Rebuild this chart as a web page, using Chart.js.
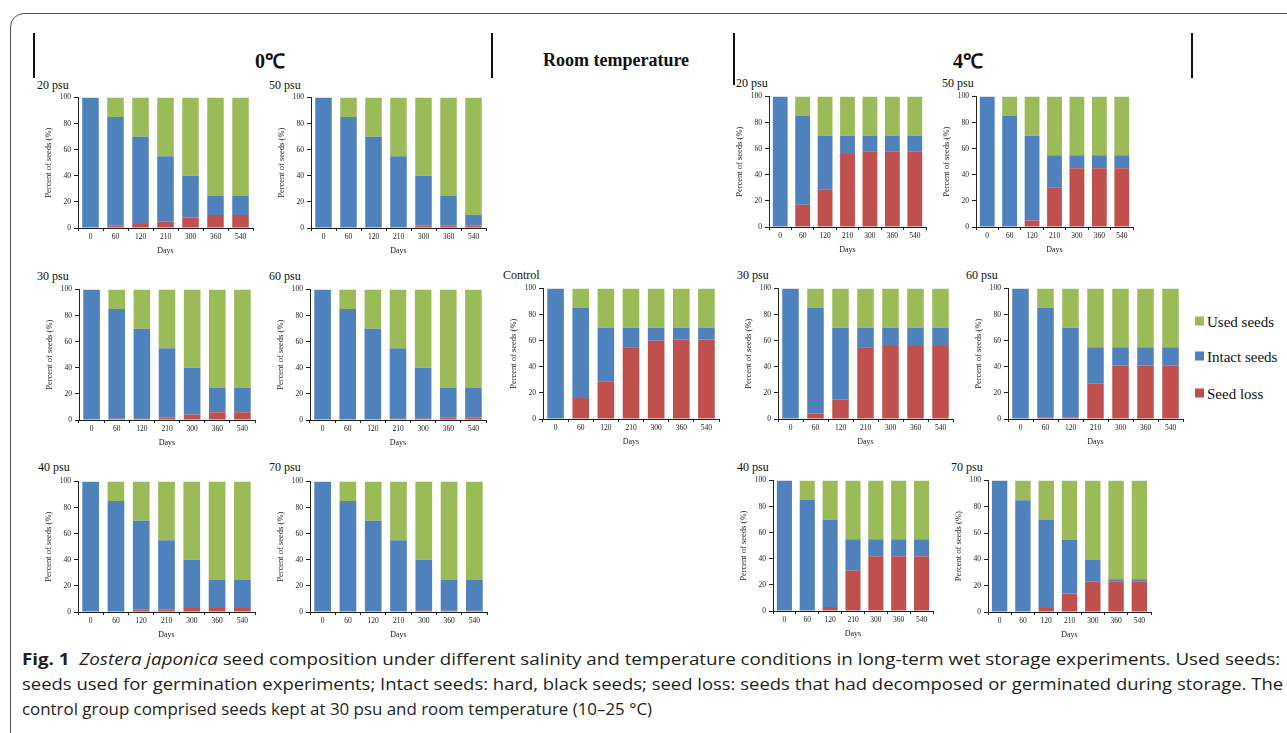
<!DOCTYPE html>
<html>
<head>
<meta charset="utf-8">
<script src="https://cdn.jsdelivr.net/npm/chart.js@4.4.1/dist/chart.umd.min.js"></script>
<style>
  html, body { margin: 0; padding: 0; background: #fff; }
  body { width: 1287px; height: 733px; overflow: hidden; position: relative; font-family: "Liberation Serif", serif; }
  #frame { position: absolute; left: 10px; top: 13px; width: 1320px; height: 760px; border: 1px solid #555; border-radius: 14px; }
  .bar { position: absolute; width: 2px; background: #111; }
  .head { position: absolute; font-weight: bold; color: #111; transform: translate(-50%, -50%); white-space: nowrap; }
  .plabel { position: absolute; font-size: 12px; color: #111; transform: translateY(-50%); white-space: nowrap; }
  canvas { position: absolute; }
  .leg { position: absolute; font-size: 15px; color: #111; transform: translateY(-50%); white-space: nowrap; }
  .leg i { display: inline-block; width: 9px; height: 9px; margin-right: 3px; vertical-align: 1px; }
  .cap { position: absolute; left: 22px; font-family: "Open Sans", sans-serif; font-size: 16px; color: #231f20; white-space: nowrap; transform-origin: 0 50%; transform: translateY(-50%); }
</style>
</head>
<body>
<div id="frame"></div>

<div class="bar" style="left:33px;top:33px;height:45px"></div>
<div class="bar" style="left:491px;top:33px;height:45px"></div>
<div class="bar" style="left:733px;top:33px;height:52px"></div>
<div class="bar" style="left:1191px;top:33px;height:45px"></div>
<div class="head" style="left:270px;top:60px;font-size:20px">0℃</div>
<div class="head" style="left:616px;top:60px;font-size:18px">Room temperature</div>
<div class="head" style="left:968px;top:60px;font-size:20px">4℃</div>

<div class="leg" style="left:1195px;top:322px"><i style="background:#9BBB59"></i>Used seeds</div>
<div class="leg" style="left:1195px;top:357px"><i style="background:#4F81BD"></i>Intact seeds</div>
<div class="leg" style="left:1195px;top:394px"><i style="background:#C0504D"></i>Seed loss</div>

<div class="cap" style="top:659px"><b>Fig. 1</b>&nbsp;&nbsp;<i>Zostera japonica</i> seed composition under different salinity and temperature conditions in long-term wet storage experiments. Used seeds:</div>
<div class="cap" style="top:684px">seeds used for germination experiments; Intact seeds: hard, black seeds; seed loss: seeds that had decomposed or germinated during storage. The</div>
<div class="cap" style="top:709px">control group comprised seeds kept at 30 psu and room temperature (10–25 °C)</div>

<script>
// Días de almacenamiento (eje x de todos los paneles)
const days = ['0', '60', '120', '210', '300', '360', '540'];

// 0 ℃
const loss0_20 = [0, 2, 3, 5, 8, 10, 10];
const intact0_20 = [100, 83, 67, 50, 32, 15, 15];
const used0_20 = [0, 15, 30, 45, 60, 75, 75];

const loss0_50 = [0, 0, 0, 0, 2, 2, 2];
const intact0_50 = [100, 85, 70, 55, 38, 23, 8];
const used0_50 = [0, 15, 30, 45, 60, 75, 90];

const loss0_30 = [0, 1, 1, 2, 4, 6, 6];
const intact0_30 = [100, 84, 69, 53, 36, 19, 19];
const used0_30 = [0, 15, 30, 45, 60, 75, 75];

const loss0_60 = [0, 0, 0, 1, 1, 2, 2];
const intact0_60 = [100, 85, 70, 54, 39, 23, 23];
const used0_60 = [0, 15, 30, 45, 60, 75, 75];

const loss0_40 = [0, 0, 2, 2, 3, 3, 3];
const intact0_40 = [100, 85, 68, 53, 37, 22, 22];
const used0_40 = [0, 15, 30, 45, 60, 75, 75];

const loss0_70 = [0, 0, 0, 0, 1, 1, 1];
const intact0_70 = [100, 85, 70, 55, 39, 24, 24];
const used0_70 = [0, 15, 30, 45, 60, 75, 75];

// Temperatura ambiente (control, 30 psu)
const lossCtrl = [0, 16, 29, 55, 60, 61, 61];
const intactCtrl = [100, 69, 41, 15, 10, 9, 9];
const usedCtrl = [0, 15, 30, 30, 30, 30, 30];

// 4 ℃
const loss4_20 = [0, 17, 29, 56, 58, 58, 58];
const intact4_20 = [100, 68, 41, 14, 12, 12, 12];
const used4_20 = [0, 15, 30, 30, 30, 30, 30];

const loss4_50 = [0, 0, 5, 30, 45, 45, 45];
const intact4_50 = [100, 85, 65, 25, 10, 10, 10];
const used4_50 = [0, 15, 30, 45, 45, 45, 45];

const loss4_30 = [0, 4, 15, 55, 56, 56, 56];
const intact4_30 = [100, 81, 55, 15, 14, 14, 14];
const used4_30 = [0, 15, 30, 30, 30, 30, 30];

const loss4_60 = [0, 1, 1, 27, 41, 41, 41];
const intact4_60 = [100, 84, 69, 28, 14, 14, 14];
const used4_60 = [0, 15, 30, 45, 45, 45, 45];

const loss4_40 = [0, 0, 3, 31, 42, 42, 42];
const intact4_40 = [100, 85, 67, 24, 13, 13, 13];
const used4_40 = [0, 15, 30, 45, 45, 45, 45];

const loss4_70 = [0, 0, 3, 14, 23, 23, 23];
const intact4_70 = [100, 85, 67, 41, 17, 2, 2];
const used4_70 = [0, 15, 30, 45, 60, 75, 75];

const COL_LOSS = '#C0504D';
const COL_INTACT = '#4F81BD';
const COL_USED = '#9BBB59';

// Posición de cada panel: borde izquierdo/derecho del eje x, y de 100 y de 0
const panels = [
  { label: '20 psu', lx: 37, ly: 85, left: 78, right: 253, top: 96, bottom: 228, d: [loss0_20, intact0_20, used0_20] },
  { label: '50 psu', lx: 269, ly: 85, left: 311, right: 486, top: 96, bottom: 228, d: [loss0_50, intact0_50, used0_50] },
  { label: '20 psu', lx: 736, ly: 83, left: 769, right: 926, top: 95, bottom: 227, d: [loss4_20, intact4_20, used4_20] },
  { label: '50 psu', lx: 942, ly: 83, left: 976, right: 1133, top: 95, bottom: 227, d: [loss4_50, intact4_50, used4_50] },

  { label: '30 psu', lx: 37, ly: 276, left: 79, right: 255, top: 288, bottom: 420, d: [loss0_30, intact0_30, used0_30] },
  { label: '60 psu', lx: 269, ly: 276, left: 310, right: 486, top: 288, bottom: 420, d: [loss0_60, intact0_60, used0_60] },
  { label: 'Control', lx: 503, ly: 275, left: 543, right: 719, top: 287, bottom: 419, d: [lossCtrl, intactCtrl, usedCtrl] },
  { label: '30 psu', lx: 737, ly: 275, left: 778, right: 953, top: 287, bottom: 419, d: [loss4_30, intact4_30, used4_30] },
  { label: '60 psu', lx: 966, ly: 275, left: 1008, right: 1183, top: 287, bottom: 419, d: [loss4_60, intact4_60, used4_60] },

  { label: '40 psu', lx: 38, ly: 467, left: 78, right: 255, top: 480, bottom: 612, d: [loss0_40, intact0_40, used0_40] },
  { label: '70 psu', lx: 269, ly: 467, left: 310, right: 487, top: 480, bottom: 612, d: [loss0_70, intact0_70, used0_70] },
  { label: '40 psu', lx: 737, ly: 467, left: 773, right: 933, top: 479, bottom: 611, d: [loss4_40, intact4_40, used4_40] },
  { label: '70 psu', lx: 951, ly: 467, left: 988, right: 1151, top: 479, bottom: 612, d: [loss4_70, intact4_70, used4_70] }
];

const Y_W = 38, X_H = 28, PAD_T = 6, PAD_R = 6;
const tickFont = { family: 'Liberation Serif', size: 7.5 };

panels.forEach(p => {
  const lab = document.createElement('div');
  lab.className = 'plabel';
  lab.style.left = p.lx + 'px';
  lab.style.top = p.ly + 'px';
  lab.textContent = p.label;
  document.body.appendChild(lab);

  const cv = document.createElement('canvas');
  const w = p.right - p.left + Y_W + PAD_R;
  const h = p.bottom - p.top + PAD_T + X_H;
  cv.width = w; cv.height = h;
  cv.style.width = w + 'px'; cv.style.height = h + 'px';
  cv.style.left = (p.left - Y_W) + 'px';
  cv.style.top = (p.top - PAD_T) + 'px';
  document.body.appendChild(cv);

  new Chart(cv.getContext('2d'), {
    type: 'bar',
    data: {
      labels: days,
      datasets: [
        { label: 'Seed loss', data: p.d[0], backgroundColor: COL_LOSS },
        { label: 'Intact seeds', data: p.d[1], backgroundColor: COL_INTACT },
        { label: 'Used seeds', data: p.d[2], backgroundColor: COL_USED }
      ]
    },
    options: {
      responsive: false,
      animation: false,
      layout: { padding: { top: PAD_T, right: PAD_R, left: 0, bottom: 0 } },
      datasets: { bar: { barPercentage: 0.66, categoryPercentage: 1 } },
      plugins: { legend: { display: false }, tooltip: { enabled: false } },
      scales: {
        x: {
          stacked: true,
          border: { color: '#222', width: 1 },
          grid: { drawOnChartArea: false, tickLength: 3, tickColor: '#222' },
          ticks: { font: tickFont, color: '#222', padding: 2, maxRotation: 0 },
          title: { display: true, text: 'Days', font: { family: 'Liberation Serif', size: 8 }, color: '#222', padding: 0 },
          afterFit: s => { s.height = X_H; }
        },
        y: {
          stacked: true,
          min: 0, max: 100,
          border: { color: '#222', width: 1 },
          grid: { drawOnChartArea: false, tickLength: 4, tickColor: '#222' },
          ticks: { stepSize: 20, font: tickFont, color: '#222', padding: 3 },
          title: { display: true, text: 'Percent of seeds (%)', font: { family: 'Liberation Serif', size: 8.5 }, color: '#222', padding: { top: 4, bottom: 0 } },
          afterFit: s => { s.width = Y_W; }
        }
      }
    }
  });
});

// Ajustar cada línea del pie de figura a su ancho en la referencia
const capWidths = [1258, 1261, 630];
document.querySelectorAll('.cap').forEach((el, i) => {
  const k = capWidths[i] / el.scrollWidth;
  el.style.transform = 'translateY(-50%) scaleX(' + k + ')';
});
</script>
</body>
</html>
